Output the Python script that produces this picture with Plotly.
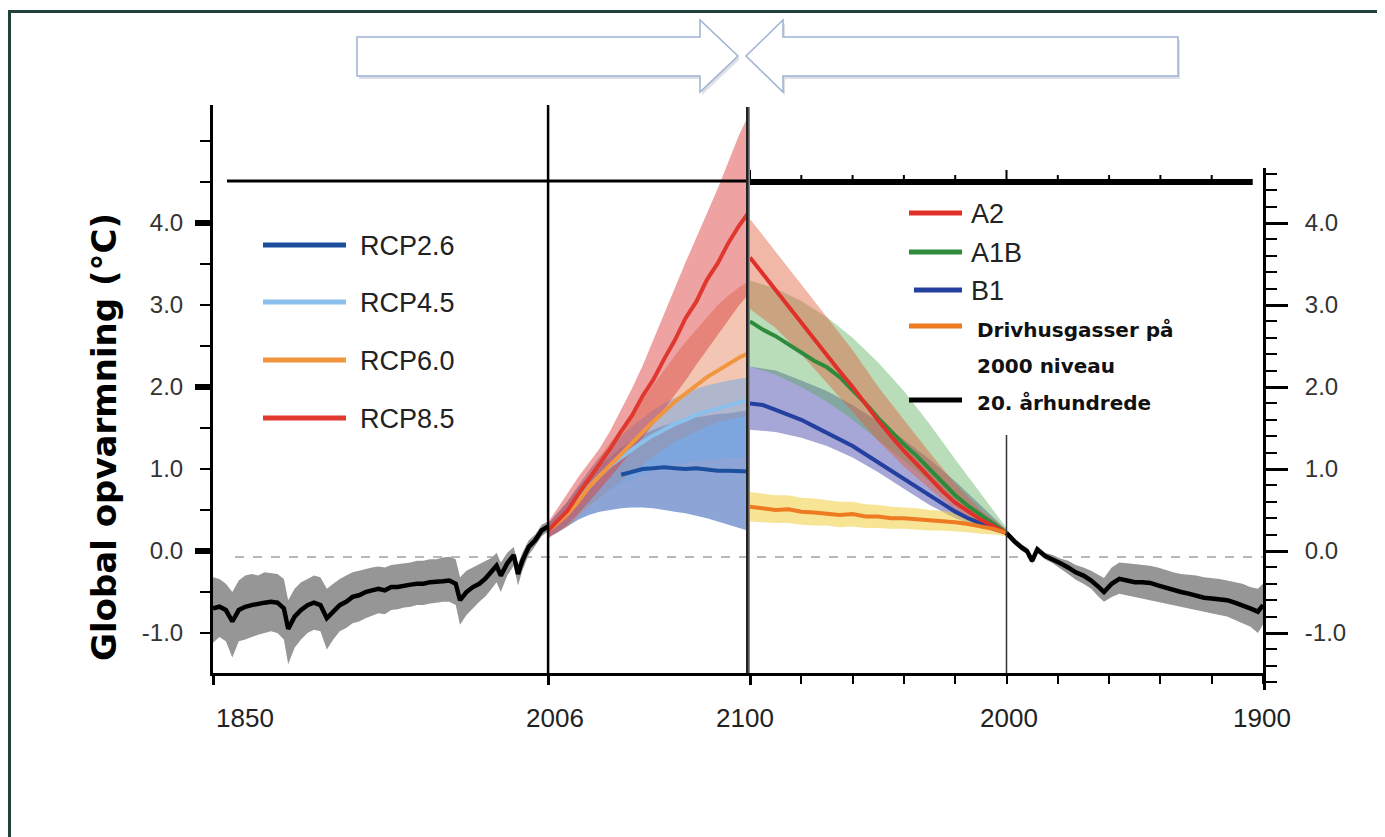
import plotly.graph_objects as go

# ------------------------------------------------------------------ data
hist_years = [1850, 1853, 1856, 1859, 1862, 1865, 1868, 1871, 1874, 1877, 1880, 1883, 1885, 1888,
              1891, 1894, 1897, 1900, 1903, 1906, 1909, 1912, 1915, 1918, 1921, 1924, 1927, 1930,
              1933, 1936, 1939, 1942, 1945, 1948, 1951, 1954, 1957, 1960, 1963, 1965, 1968, 1971,
              1974, 1977, 1980, 1982, 1984, 1987, 1990, 1992, 1994, 1997, 2000, 2003, 2006]
hist_mean = [-0.70, -0.68, -0.72, -0.86, -0.72, -0.68, -0.66, -0.64, -0.63, -0.62, -0.63, -0.70, -0.95, -0.80,
             -0.72, -0.66, -0.63, -0.66, -0.82, -0.74, -0.66, -0.62, -0.56, -0.54, -0.50, -0.48, -0.46, -0.48,
             -0.44, -0.44, -0.42, -0.41, -0.40, -0.40, -0.38, -0.38, -0.37, -0.36, -0.40, -0.60, -0.50, -0.44,
             -0.40, -0.33, -0.25, -0.18, -0.30, -0.15, -0.05, -0.28, -0.12, 0.05, 0.13, 0.25, 0.30]
hist_hi = [-0.32, -0.34, -0.40, -0.50, -0.36, -0.30, -0.28, -0.30, -0.26, -0.27, -0.28, -0.34, -0.60, -0.46,
           -0.38, -0.34, -0.30, -0.32, -0.46, -0.40, -0.34, -0.30, -0.26, -0.24, -0.22, -0.20, -0.19, -0.20,
           -0.17, -0.16, -0.15, -0.14, -0.12, -0.12, -0.10, -0.10, -0.08, -0.07, -0.10, -0.32, -0.24, -0.20,
           -0.17, -0.13, -0.08, -0.02, -0.14, -0.02, 0.05, -0.16, -0.02, 0.13, 0.20, 0.32, 0.36]
hist_lo = [-1.12, -1.05, -1.10, -1.30, -1.10, -1.08, -1.05, -1.02, -1.00, -0.98, -1.00, -1.08, -1.38, -1.18,
           -1.08, -1.00, -0.96, -0.98, -1.20, -1.08, -0.98, -0.94, -0.88, -0.86, -0.82, -0.79, -0.76, -0.77,
           -0.72, -0.71, -0.69, -0.68, -0.66, -0.66, -0.64, -0.63, -0.62, -0.62, -0.66, -0.90, -0.78, -0.70,
           -0.62, -0.55, -0.45, -0.38, -0.50, -0.30, -0.18, -0.42, -0.24, -0.05, 0.06, 0.18, 0.24]

rcp_years = [2006, 2010, 2015, 2020, 2025, 2030, 2035, 2040, 2045, 2050,
             2055, 2060, 2065, 2070, 2075, 2080, 2085, 2090, 2095, 2100]
rcp85_mean = [0.25, 0.36, 0.49, 0.69, 0.87, 1.06, 1.25, 1.46, 1.65, 1.89, 2.09, 2.34, 2.57, 2.84, 3.04, 3.31, 3.51, 3.76, 3.97, 4.15]
rcp85_hi = [0.35, 0.50, 0.70, 0.90, 1.08, 1.25, 1.47, 1.72, 1.98, 2.26, 2.58, 2.88, 3.20, 3.52, 3.82, 4.12, 4.42, 4.75, 5.08, 5.35]
rcp85_lo = [0.15, 0.22, 0.32, 0.45, 0.60, 0.75, 0.90, 1.05, 1.22, 1.38, 1.55, 1.72, 1.90, 2.08, 2.27, 2.45, 2.63, 2.82, 3.00, 3.15]
rcp60_mean = [0.25, 0.33, 0.45, 0.60, 0.78, 0.92, 1.05, 1.18, 1.32, 1.45, 1.58, 1.70, 1.82, 1.92, 2.02, 2.12, 2.20, 2.28, 2.36, 2.42]
rcp60_hi = [0.33, 0.45, 0.60, 0.78, 0.98, 1.15, 1.32, 1.50, 1.68, 1.85, 2.02, 2.20, 2.38, 2.55, 2.70, 2.85, 3.00, 3.12, 3.22, 3.30]
rcp60_lo = [0.17, 0.22, 0.30, 0.42, 0.55, 0.65, 0.75, 0.85, 0.95, 1.05, 1.15, 1.25, 1.33, 1.40, 1.46, 1.52, 1.57, 1.60, 1.63, 1.65]
rcp45_mean = [0.25, 0.34, 0.46, 0.62, 0.78, 0.92, 1.04, 1.14, 1.24, 1.33, 1.41, 1.48, 1.55, 1.60, 1.66, 1.70, 1.74, 1.78, 1.82, 1.85]
rcp45_hi = [0.33, 0.45, 0.60, 0.80, 0.98, 1.14, 1.28, 1.40, 1.52, 1.62, 1.72, 1.80, 1.87, 1.93, 1.98, 2.02, 2.05, 2.08, 2.10, 2.12]
rcp45_lo = [0.17, 0.23, 0.32, 0.44, 0.56, 0.66, 0.74, 0.82, 0.88, 0.94, 0.99, 1.03, 1.06, 1.08, 1.10, 1.11, 1.12, 1.13, 1.14, 1.15]
rcp26_mean = [0.25, 0.34, 0.46, 0.60, 0.72, 0.82, 0.88, 0.93, 0.97, 1.00, 1.01, 1.02, 1.01, 1.00, 1.01, 0.99, 0.98, 0.98, 0.97, 0.97]
rcp26_hi = [0.33, 0.45, 0.60, 0.78, 0.92, 1.05, 1.15, 1.26, 1.35, 1.42, 1.48, 1.53, 1.57, 1.60, 1.63, 1.65, 1.67, 1.68, 1.70, 1.72]
rcp26_lo = [0.17, 0.22, 0.30, 0.38, 0.44, 0.48, 0.50, 0.52, 0.53, 0.53, 0.52, 0.50, 0.48, 0.46, 0.43, 0.40, 0.36, 0.32, 0.28, 0.24]

sres_years = [2100, 2095, 2090, 2085, 2080, 2075, 2070, 2065, 2060, 2055, 2050,
              2045, 2040, 2035, 2030, 2025, 2020, 2015, 2010, 2005, 2000]
a2_mean = [3.58, 3.38, 3.18, 2.98, 2.78, 2.58, 2.39, 2.19, 2.00, 1.79, 1.59, 1.40, 1.22, 1.06, 0.90, 0.73, 0.59, 0.48, 0.38, 0.30, 0.22]
a1b_mean = [2.80, 2.70, 2.62, 2.52, 2.42, 2.32, 2.24, 2.12, 1.96, 1.80, 1.62, 1.46, 1.30, 1.16, 1.00, 0.84, 0.68, 0.55, 0.44, 0.33, 0.22]
b1_mean = [1.80, 1.78, 1.72, 1.66, 1.60, 1.52, 1.44, 1.36, 1.28, 1.18, 1.08, 0.98, 0.88, 0.78, 0.68, 0.58, 0.48, 0.40, 0.33, 0.27, 0.22]
commit_mean = [0.54, 0.52, 0.50, 0.51, 0.48, 0.47, 0.46, 0.44, 0.45, 0.42, 0.42, 0.40, 0.40, 0.39, 0.37, 0.37, 0.35, 0.33, 0.30, 0.27, 0.22]
commit_hi = [0.72, 0.70, 0.68, 0.68, 0.65, 0.64, 0.62, 0.60, 0.60, 0.57, 0.56, 0.54, 0.53, 0.52, 0.50, 0.49, 0.46, 0.43, 0.39, 0.33, 0.26]
commit_lo = [0.36, 0.35, 0.34, 0.34, 0.32, 0.31, 0.31, 0.29, 0.30, 0.28, 0.28, 0.27, 0.27, 0.26, 0.25, 0.25, 0.24, 0.23, 0.21, 0.20, 0.18]

sres_band_years = [2100, 2090, 2080, 2070, 2060, 2050, 2040, 2030, 2020, 2010, 2000]
a2_hi = [4.05, 3.65, 3.25, 2.85, 2.45, 2.00, 1.60, 1.20, 0.82, 0.50, 0.26]
a2_lo = [2.95, 2.72, 2.40, 2.05, 1.70, 1.34, 1.03, 0.76, 0.50, 0.34, 0.18]
a1b_hi = [3.30, 3.20, 3.05, 2.85, 2.60, 2.30, 1.95, 1.55, 1.12, 0.70, 0.28]
a1b_lo = [2.25, 2.15, 2.00, 1.82, 1.60, 1.35, 1.10, 0.85, 0.60, 0.38, 0.20]
b1_hi = [2.25, 2.20, 2.08, 1.95, 1.78, 1.58, 1.36, 1.12, 0.85, 0.55, 0.26]
b1_lo = [1.48, 1.45, 1.38, 1.28, 1.14, 0.96, 0.76, 0.56, 0.40, 0.28, 0.20]

hist20_years = [2000, 1997, 1994, 1992, 1990, 1988, 1985, 1982, 1979, 1976, 1973, 1970, 1967, 1964, 1962, 1959,
                1956, 1953, 1950, 1947, 1944, 1941, 1938, 1935, 1932, 1929, 1926, 1923, 1920, 1917, 1914, 1911,
                1908, 1905, 1902, 1900]
hist20_mean = [0.22, 0.12, 0.04, 0.00, -0.12, 0.02, -0.06, -0.10, -0.15, -0.20, -0.26, -0.30, -0.36, -0.44, -0.50, -0.40,
               -0.34, -0.36, -0.38, -0.38, -0.39, -0.42, -0.45, -0.47, -0.50, -0.52, -0.55, -0.57, -0.58, -0.59, -0.60, -0.63,
               -0.66, -0.70, -0.74, -0.66]
hist20_hi = [0.26, 0.16, 0.08, 0.04, -0.08, 0.06, -0.02, -0.05, -0.09, -0.12, -0.17, -0.20, -0.24, -0.30, -0.33, -0.20,
             -0.14, -0.15, -0.16, -0.17, -0.18, -0.20, -0.23, -0.26, -0.28, -0.29, -0.30, -0.32, -0.33, -0.34, -0.36, -0.38,
             -0.40, -0.44, -0.46, -0.40]
hist20_lo = [0.18, 0.08, 0.00, -0.04, -0.16, -0.02, -0.10, -0.15, -0.21, -0.28, -0.35, -0.40, -0.46, -0.56, -0.62, -0.56,
             -0.52, -0.54, -0.56, -0.58, -0.60, -0.62, -0.64, -0.66, -0.68, -0.70, -0.72, -0.74, -0.76, -0.78, -0.80, -0.84,
             -0.88, -0.92, -1.00, -0.90]

left_tick_years = [1850, 2006, 2100]
right_tick_years = [2100, 2080, 2060, 2040, 2020, 2000, 1980, 1960, 1940, 1920, 1900]
x_label_years = [1850, 2006, 2100, 2000, 1900]
x_label_text = ["1850", "2006", "2100", "2000", "1900"]
y_tick_vals = [-1, 0, 1, 2, 3, 4]
y_tick_text = ["-1.0", "0.0", "1.0", "2.0", "3.0", "4.0"]
thick_tick_vals = [0, 2, 4]
rcp_names = ["RCP2.6", "RCP4.5", "RCP6.0", "RCP8.5"]
sres_names = ["A2", "A1B", "B1"]
y_title = "Global opvarmning (°C)"

# ------------------------------------------------------------------ geometry helpers
# page body has an 8px default margin: figure is placed at (8, 8) in the window
OFF = 8
W, H = 1385 - OFF, 837 - OFF
ML, MR, MT, MB = 213 - OFF, 122, 105 - OFF, 147
PW, PH = W - ML - MR, H - MT - MB
PLOT_LEFT, PLOT_BOTTOM = 213, 690          # page pixel coords of plot area
ZERO_PX, UNIT_PX = 551, 82.0


def px(x):
    return (x - PLOT_LEFT) / PW


def py(y):
    return (PLOT_BOTTOM - y) / PH


def val(ypix):
    return (ZERO_PX - ypix) / UNIT_PX


ARIAL = "Liberation Sans, Arial, sans-serif"
BOLDF = "DejaVu Sans, sans-serif"

C_RCP26, C_RCP45, C_RCP60, C_RCP85 = "#1d4f9f", "#8cc0ec", "#f2953f", "#e0372e"
C_A2, C_A1B, C_B1, C_COM = "#e0302a", "#2f8a3c", "#2340a0", "#ee7a22"

fig = go.Figure()


def band(xs, lo, hi, color, xa="x", ya="y"):
    fig.add_trace(go.Scatter(x=list(xs) + list(xs)[::-1], y=list(hi) + list(lo)[::-1],
                             fill="toself", fillcolor=color, mode="lines", line=dict(width=0),
                             hoverinfo="skip", showlegend=False, xaxis=xa, yaxis=ya))


def line(xs, ys, color, width=4, xa="x", ya="y"):
    fig.add_trace(go.Scatter(x=xs, y=ys, mode="lines", line=dict(color=color, width=width),
                             hoverinfo="skip", showlegend=False, xaxis=xa, yaxis=ya))


# left panel
band(hist_years, hist_lo, hist_hi, "rgb(150,150,150)")
line(hist_years, hist_mean, "black", 4.5)
band(rcp_years, rcp26_lo, rcp26_hi, "rgba(45,90,180,0.55)")
band(rcp_years, rcp60_lo, rcp60_hi, "rgba(225,120,75,0.42)")
band(rcp_years, rcp45_lo, rcp45_hi, "rgba(110,165,230,0.50)")
band(rcp_years, rcp85_lo, rcp85_hi, "rgba(220,60,60,0.48)")
i40 = rcp_years.index(2040)
line(rcp_years[i40:], rcp26_mean[i40:], C_RCP26)
line(rcp_years, rcp45_mean, C_RCP45)
line(rcp_years, rcp60_mean, C_RCP60)
line(rcp_years, rcp85_mean, C_RCP85)

# right panel
band(sres_band_years, b1_lo, b1_hi, "rgba(80,80,175,0.50)", "x2", "y2")
band(sres_band_years, a1b_lo, a1b_hi, "rgba(80,170,80,0.40)", "x2", "y2")
band(sres_band_years, a2_lo, a2_hi, "rgba(225,95,60,0.45)", "x2", "y2")
band(sres_years, commit_lo, commit_hi, "rgba(240,205,60,0.55)", "x2", "y2")
band(hist20_years, hist20_lo, hist20_hi, "rgb(150,150,150)", "x2", "y2")
line(sres_years, b1_mean, C_B1, 4, "x2", "y2")
line(sres_years, a1b_mean, C_A1B, 4, "x2", "y2")
line(sres_years, a2_mean, C_A2, 4, "x2", "y2")
line(sres_years, commit_mean, C_COM, 4, "x2", "y2")
line(hist20_years, hist20_mean, "black", 4.5, "x2", "y2")

# ------------------------------------------------------------------ shapes
shapes = []
# outer frame
shapes.append(dict(type="rect", xref="paper", yref="paper", x0=px(9.5), x1=px(1420), y0=py(880), y1=py(11.5),
                   line=dict(color="#21423a", width=3), layer="below"))


def arrow_path(pts, dx=0, dy=0):
    return "M " + " L ".join(f"{px(x + dx):.5f},{py(y + dy):.5f}" for x, y in pts) + " Z"


right_arrow = [(357, 37), (700, 37), (700, 20), (738, 56), (700, 92), (700, 76), (357, 76)]
left_arrow = [(1178, 37), (783, 37), (783, 20), (746, 56), (783, 92), (783, 76), (1178, 76)]
for pts in (right_arrow, left_arrow):
    shapes.append(dict(type="path", xref="paper", yref="paper", path=arrow_path(pts, 2, 3),
                       fillcolor="rgba(120,130,150,0.25)", line=dict(width=0)))
    shapes.append(dict(type="path", xref="paper", yref="paper", path=arrow_path(pts),
                       fillcolor="white", line=dict(color="#9fb1d3", width=1.5)))

# zero reference dashed line
shapes.append(dict(type="line", xref="paper", yref="y", x0=px(235), x1=1, y0=val(557), y1=val(557),
                   line=dict(color="#b8b8b8", width=2, dash="dash"), layer="below"))
# top horizontal line
shapes.append(dict(type="line", xref="x", yref="paper", x0=1856.5, x1=2100, y0=py(181), y1=py(181),
                   line=dict(color="black", width=3)))
shapes.append(dict(type="line", xref="x2", yref="paper", x0=2100, x1=1904, y0=py(182), y1=py(182),
                   line=dict(color="black", width=6)))
for yr in right_tick_years[:-1]:
    top = 170 if yr in (2100, 2000) else 175
    shapes.append(dict(type="line", xref="x2", yref="paper", x0=yr, x1=yr, y0=py(182), y1=py(top),
                       line=dict(color="black", width=2)))
# vertical lines
shapes.append(dict(type="line", xref="x", yref="paper", x0=2006, x1=2006, y0=py(673), y1=py(105),
                   line=dict(color="black", width=2.5)))
shapes.append(dict(type="line", xref="x", yref="paper", x0=2100, x1=2100, y0=py(673), y1=py(107),
                   line=dict(color="#222", width=8)))
shapes.append(dict(type="line", xref="x", yref="paper", x0=2100, x1=2100, y0=py(673), y1=py(107),
                   line=dict(color="#8a8a8a", width=3)))
shapes.append(dict(type="line", xref="x2", yref="paper", x0=2000, x1=2000, y0=py(673), y1=py(435),
                   line=dict(color="#333", width=1.5)))
# thick left ticks
for v in thick_tick_vals:
    shapes.append(dict(type="line", xref="paper", yref="y", x0=px(195), x1=px(213), y0=v, y1=v,
                       line=dict(color="black", width=6)))

# legend samples
rcp_cols = [C_RCP26, C_RCP45, C_RCP60, C_RCP85]
rcp_ys = [245, 302, 360, 418]
for c, y in zip(rcp_cols, rcp_ys):
    shapes.append(dict(type="line", xref="paper", yref="paper", x0=px(263), x1=px(346), y0=py(y), y1=py(y),
                       line=dict(color=c, width=5)))
sres_cols = [C_A2, C_A1B, C_B1, C_COM, "black"]
sres_ys = [213, 252, 290, 326, 400]
sres_x0 = [909, 909, 914, 909, 909]
for c, y, x0 in zip(sres_cols, sres_ys, sres_x0):
    shapes.append(dict(type="line", xref="paper", yref="paper", x0=px(x0), x1=px(962), y0=py(y), y1=py(y),
                       line=dict(color=c, width=5)))

# ------------------------------------------------------------------ annotations
ann = []
for name, y in zip(rcp_names, rcp_ys):
    ann.append(dict(text=name, xref="paper", yref="paper", x=px(358), y=py(y + 1), xanchor="left",
                    yanchor="middle", showarrow=False, font=dict(family=ARIAL, size=27, color="#222")))
for name, y in zip(sres_names, sres_ys[:3]):
    ann.append(dict(text=name, xref="paper", yref="paper", x=px(969), y=py(y + 1), xanchor="left",
                    yanchor="middle", showarrow=False, font=dict(family=ARIAL, size=27, color="#222")))
for txt, y in zip(["Drivhusgasser på", "2000 niveau", "20. århundrede"], [330, 366, 403]):
    ann.append(dict(text=txt, xref="paper", yref="paper", x=px(975), y=py(y), xanchor="left",
                    yanchor="middle", showarrow=False,
                    font=dict(family=BOLDF, size=20, color="#111", weight="bold")))
for yr, txt, ref, shift in zip(x_label_years, x_label_text, ["x", "x", "x", "x2", "x2"], [32, 7, -5, 2, -1]):
    ann.append(dict(text=txt, xref=ref, yref="paper", x=yr, y=py(718), xshift=shift, xanchor="center",
                    yanchor="middle", showarrow=False, font=dict(family=ARIAL, size=26, color="#222")))
ann.append(dict(text=y_title, xref="paper", yref="paper", x=px(104), y=py(437), textangle=-90,
                xanchor="center", yanchor="middle", showarrow=False,
                font=dict(family=BOLDF, size=34, color="black", weight="bold")))

# ------------------------------------------------------------------ layout
fig.update_layout(
    width=W, height=H, margin=dict(l=ML, r=MR, t=MT, b=MB, pad=0),
    paper_bgcolor="white", plot_bgcolor="rgba(0,0,0,0)", showlegend=False,
    shapes=shapes, annotations=ann,
    xaxis=dict(domain=[0, px(750)], range=[1850, 2100], anchor="y", showgrid=False, zeroline=False,
               showline=True, linecolor="black", linewidth=3, ticks="outside", tickvals=left_tick_years,
               ticklen=9, tickwidth=3, tickcolor="black", showticklabels=False),
    xaxis2=dict(domain=[px(750), 1], range=[2100, 1900], anchor="y", showgrid=False, zeroline=False,
                showline=True, linecolor="black", linewidth=3, ticks="outside", tickvals=right_tick_years,
                ticklen=8, tickwidth=2, tickcolor="black", showticklabels=False),
    yaxis=dict(domain=[py(673), 1], range=[val(673), val(105)], anchor="x", side="left", showgrid=False,
               zeroline=False, showline=True, linecolor="black", linewidth=3, ticks="outside",
               tickvals=y_tick_vals, ticktext=y_tick_text, ticklen=10, tickwidth=2, tickcolor="black",
               ticklabelstandoff=12, tickfont=dict(family=ARIAL, size=24, color="#333"),
               minor=dict(dtick=0.5, tick0=0, ticklen=10, tickwidth=2, tickcolor="black", ticks="outside")),
    yaxis2=dict(domain=[0, py(168)], range=[val(690), val(168)], anchor="x2", side="right", showgrid=False,
                zeroline=False, showline=True, linecolor="black", linewidth=3, ticks="outside",
                tickvals=y_tick_vals, ticktext=y_tick_text, ticklen=22, tickwidth=3, tickcolor="black",
                ticklabelstandoff=12, tickfont=dict(family=ARIAL, size=24, color="#333"),
                minor=dict(dtick=0.2, tick0=0, ticklen=11, tickwidth=2, tickcolor="black", ticks="outside")),
)

fig.write_html("out.html")
